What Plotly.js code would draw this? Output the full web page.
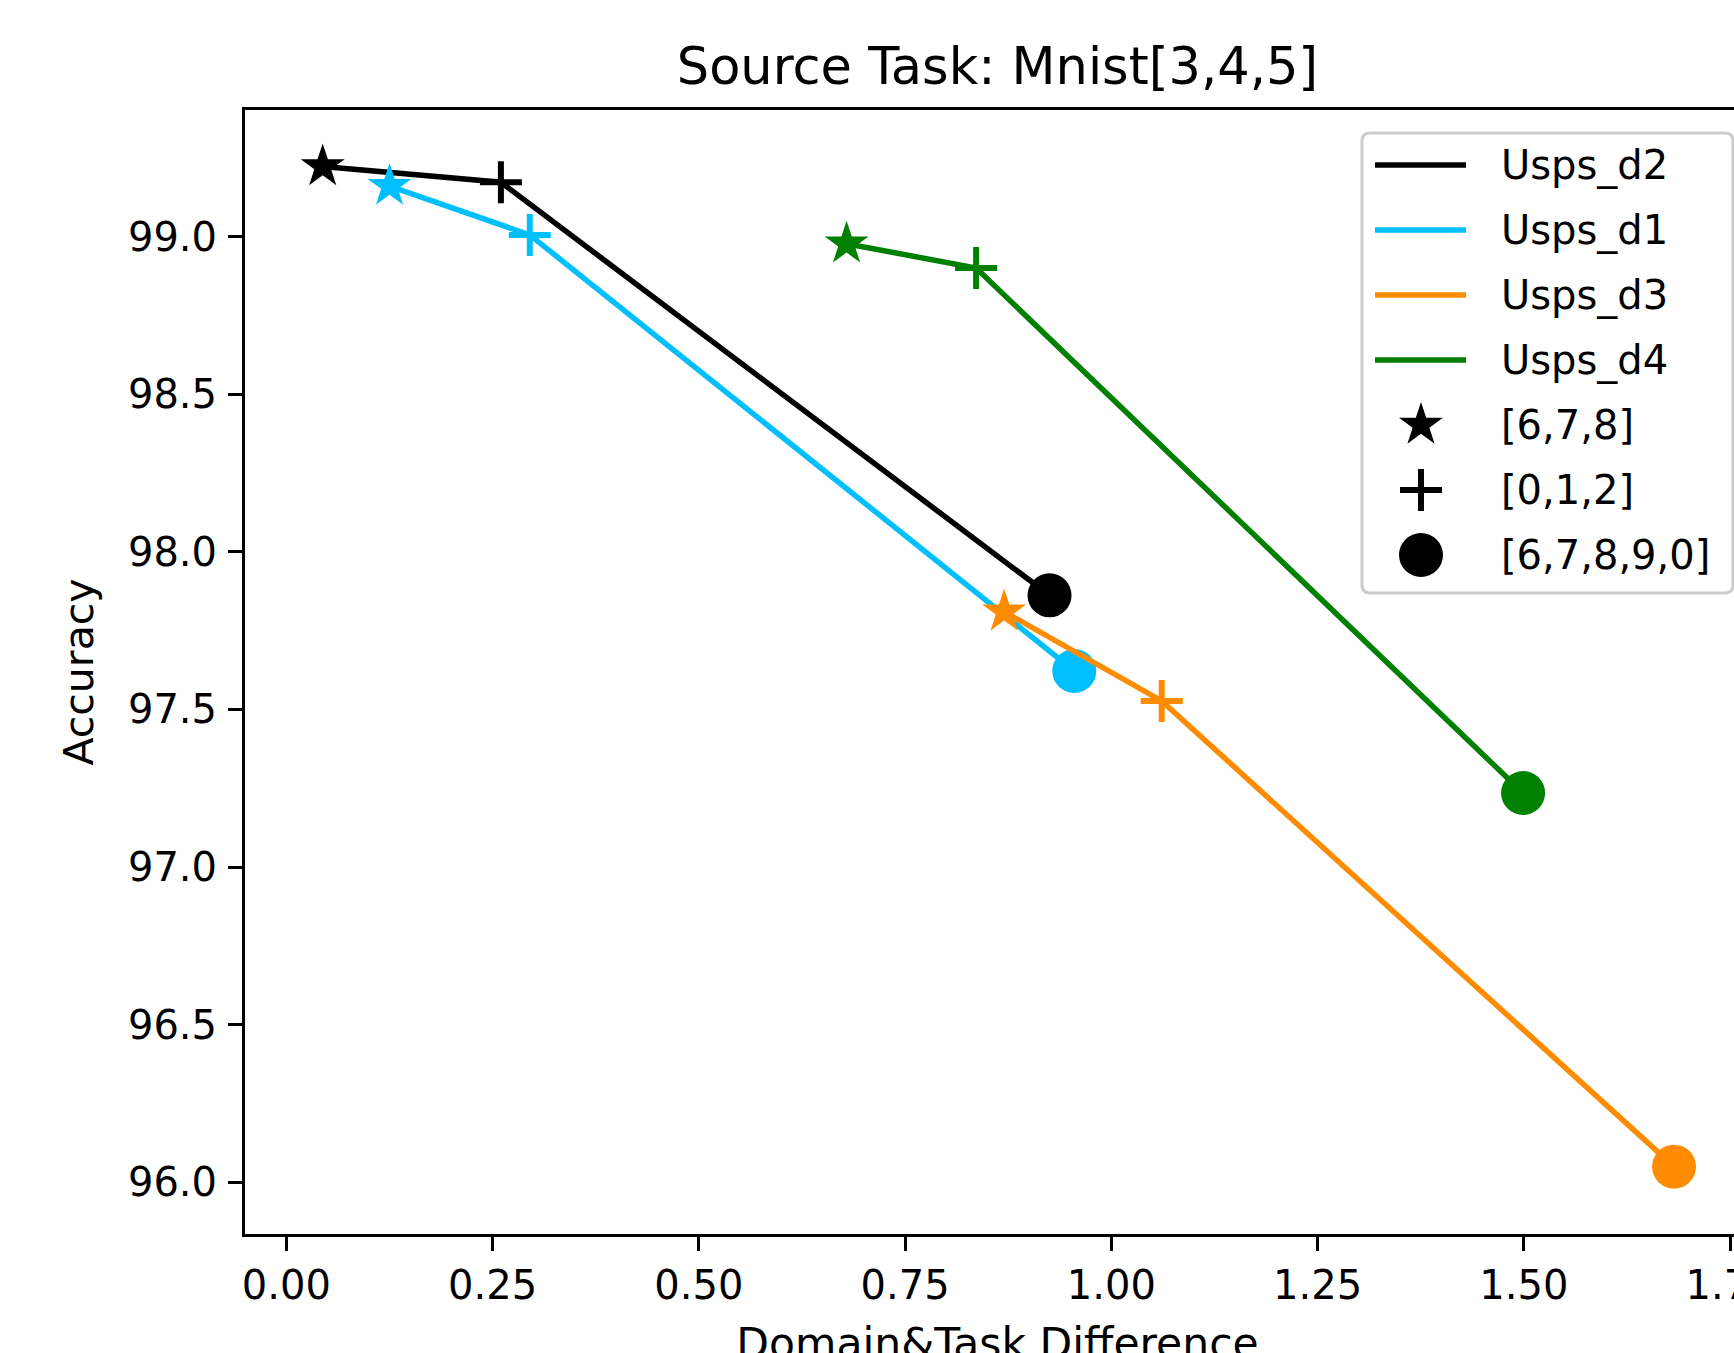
<!DOCTYPE html>
<html>
<head>
<meta charset="utf-8">
<script src="https://cdn.plot.ly/plotly-3.0.1.min.js"></script>
<style>
html, body { margin: 0; padding: 0; overflow: hidden; background: #ffffff; }
#chart { width: 1800px; height: 1400px; }
</style>
</head>
<body>
<div id="chart"></div>
<script>
// ---- data ----
const seriesNames = ['Usps_d2', 'Usps_d1', 'Usps_d3', 'Usps_d4'];
const seriesColors = ['#000000', '#00BFFF', '#FF8C00', '#008000'];
const pointSets = ['[6,7,8]', '[0,1,2]', '[6,7,8,9,0]'];

const xUspsD2 = [0.044, 0.260, 0.925];
const yUspsD2 = [99.222, 99.172, 97.862];
const xUspsD1 = [0.125, 0.295, 0.955];
const yUspsD1 = [99.160, 99.005, 97.622];
const xUspsD3 = [0.870, 1.061, 1.682];
const yUspsD3 = [97.810, 97.527, 96.050];
const xUspsD4 = [0.679, 0.836, 1.499];
const yUspsD4 = [98.977, 98.900, 97.235];

const xTickVals = [0, 0.25, 0.5, 0.75, 1.0, 1.25, 1.5, 1.75];
const yTickVals = [96.0, 96.5, 97.0, 97.5, 98.0, 98.5, 99.0];

// ---- style ----
const FONT = 'DejaVu Sans, sans-serif';
const W = 1800, H = 1400, ML = 245, MR = 50, MT = 110, MB = 166;
const symbols = ['star', 'cross-thin', 'circle'];
const symbolSizes = [33, 30, 44];
const symbolLineW = [0, 6, 0];
const LINE_W = 5.5;

const xs = [xUspsD2, xUspsD1, xUspsD3, xUspsD4];
const ys = [yUspsD2, yUspsD1, yUspsD3, yUspsD4];

const traces = [];
seriesNames.forEach((name, i) => {
  traces.push({
    type: 'scatter',
    mode: 'lines+markers',
    name: name,
    x: xs[i],
    y: ys[i],
    text: pointSets,
    showlegend: false,
    cliponaxis: false,
    line: { color: seriesColors[i], width: LINE_W },
    marker: {
      symbol: symbols,
      size: symbolSizes,
      opacity: 1,
      color: seriesColors[i],
      line: { color: seriesColors[i], width: symbolLineW }
    }
  });
});

// ---- custom legend (matplotlib-like), on a pixel-unit overlay axis ----
const legBox = { l: 1362, t: 133, r: 1733, b: 593, rad: 8 };
const legRow0 = 165, legRowStep = 65;
const legLineX0 = 1375, legLineX1 = 1466, legGlyphX = 1421, legTextX = 1499;

const shapes = [];
const annotations = [];
{
  const { l, t, r, b, rad } = legBox;
  const path = `M ${l + rad},${t} L ${r - rad},${t} Q ${r},${t} ${r},${t + rad} ` +
    `L ${r},${b - rad} Q ${r},${b} ${r - rad},${b} L ${l + rad},${b} Q ${l},${b} ${l},${b - rad} ` +
    `L ${l},${t + rad} Q ${l},${t} ${l + rad},${t} Z`;
  shapes.push({
    type: 'path', xref: 'x2', yref: 'y2', path: path, layer: 'below',
    fillcolor: 'rgba(255,255,255,0.8)', line: { color: '#cccccc', width: 3 }
  });
}
seriesNames.forEach((name, i) => {
  const yy = legRow0 + i * legRowStep;
  shapes.push({
    type: 'line', xref: 'x2', yref: 'y2', layer: 'above',
    x0: legLineX0, x1: legLineX1, y0: yy, y1: yy,
    line: { color: seriesColors[i], width: LINE_W }
  });
  annotations.push({
    xref: 'x2', yref: 'y2', x: legTextX, y: yy, xanchor: 'left', yanchor: 'middle',
    text: name, showarrow: false, font: { family: FONT, size: 40, color: '#000000' }
  });
});
const glyphY = [];
pointSets.forEach((label, j) => {
  const yy = legRow0 + (seriesNames.length + j) * legRowStep;
  glyphY.push(yy);
  annotations.push({
    xref: 'x2', yref: 'y2', x: legTextX, y: yy, xanchor: 'left', yanchor: 'middle',
    text: label, showarrow: false, font: { family: FONT, size: 40, color: '#000000' }
  });
});
traces.push({
  type: 'scatter', mode: 'markers', xaxis: 'x2', yaxis: 'y2',
  x: pointSets.map(() => legGlyphX), y: glyphY,
  text: pointSets, showlegend: false, hoverinfo: 'skip',
  marker: {
    symbol: symbols, size: symbolSizes, color: '#000000', opacity: 1,
    line: { color: '#000000', width: symbolLineW }
  }
});

const pxPerX = 825, x0px = 286.4;
const pxPerY = 315.3, y99px = 236.5;
const xRange = [(ML - x0px) / pxPerX, (W - MR - x0px) / pxPerX];
const yRange = [96 - ((H - MB) - (y99px + 3 * pxPerY)) / pxPerY, 99 + (y99px - MT) / pxPerY];

const axisCommon = {
  showline: true, linecolor: '#000000', linewidth: 3, mirror: true,
  ticks: 'outside', ticklen: 14, tickwidth: 3, tickcolor: '#000000',
  showgrid: false, zeroline: false,
  tickfont: { family: FONT, size: 40, color: '#000000' }
};

const layout = {
  width: W, height: H,
  margin: { l: ML, r: MR, t: MT, b: MB, pad: 0 },
  paper_bgcolor: '#ffffff', plot_bgcolor: '#ffffff',
  showlegend: false,
  title: {
    text: 'Source Task: Mnist[3,4,5]',
    font: { family: FONT, size: 51, color: '#000000' },
    x: 0.5, xref: 'paper', xanchor: 'center',
    y: 1 - 66 / H, yref: 'container', yanchor: 'middle'
  },
  xaxis: Object.assign({}, axisCommon, {
    range: xRange, tickvals: xTickVals, tickformat: '.2f',
    title: { text: 'Domain&Task Difference', font: { family: FONT, size: 42.5, color: '#000000' }, standoff: 22 }
  }),
  yaxis: Object.assign({}, axisCommon, {
    range: yRange, tickvals: yTickVals, tickformat: '.1f', ticklabelstandoff: 3,
    title: { text: 'Accuracy', font: { family: FONT, size: 41, color: '#000000' }, standoff: 22 }
  }),
  xaxis2: { overlaying: 'x', range: [ML, W - MR], visible: false, fixedrange: true },
  yaxis2: { overlaying: 'y', range: [H - MB, MT], visible: false, fixedrange: true },
  shapes: shapes,
  annotations: annotations
};

Plotly.newPlot('chart', traces, layout, { staticPlot: true, displayModeBar: false });
</script>
</body>
</html>
